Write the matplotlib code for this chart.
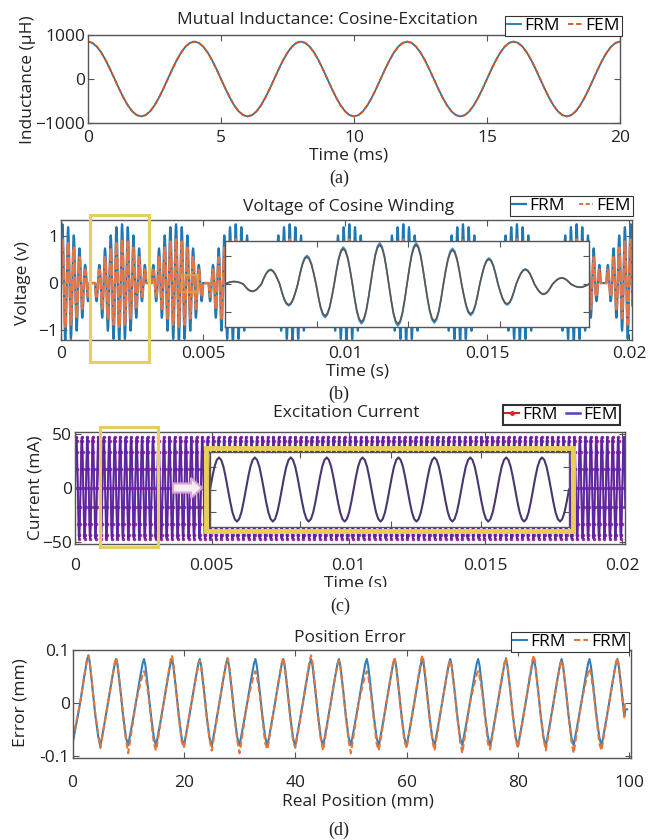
import numpy as np
import matplotlib
matplotlib.use("Agg")
import matplotlib.pyplot as plt
from matplotlib.patches import Rectangle, FancyArrow
from matplotlib.lines import Line2D

W, H = 657, 840
plt.rcParams['font.family'] = ['Open Sans', 'DejaVu Sans']
plt.rcParams['font.size'] = 12.5

FRM_BLUE = '#1f77b4'
FEM_ORANGE = '#d95319'

# ---------------- data ----------------
# (a) mutual inductance, one 4 ms period sampled every 1/6 ms (uH)
ind_period_ms = 4.0
ind_cycle = [850, 821, 736, 601, 425, 220, 0, -220, -425, -601, -736, -821,
             -850, -821, -736, -601, -425, -220, 0, 220, 425, 601, 736, 821]
ind_n_cycles = 5

# (b) cosine winding voltage: 5 kHz carrier, envelope value for each carrier cycle
carrier_hz = 5000
carrier_cycle = [0, 0.38, 0.71, 0.92, 1, 0.92, 0.71, 0.38,
                 0, -0.38, -0.71, -0.92, -1, -0.92, -0.71, -0.38]
volt_env = [1, .95, .81, .59, .31, 0, -.31, -.59, -.81, -.95,
            -1, -.95, -.81, -.59, -.31, 0, .31, .59, .81, .95]
volt_frm_peak = 1.25
volt_fem_peak = 0.93
volt_n_cycles = 101
# inset (b): peak of each half cycle over one lobe
half_shape = [0, 0.38, 0.71, 0.92, 1, 0.92, 0.71, 0.38]
inset_b_peaks = [0.06, -0.18, 0.35, -0.52, 0.68, -0.8, 0.88, -0.95, 0.98, -1.0,
                 0.98, -0.93, 0.85, -0.75, 0.62, -0.5, 0.36, -0.25, 0.15, -0.08]
inset_b_frm_scale = 1.05

# (c) excitation current (mA)
cur_amp = 47
cur_n_cycles = 101
inset_c_peaks = [1, -1, 1, -1, 1, -1, 1, -1, 1, -1, 1, -1, 1, -1, 1, -1, 1, -1, 1, -1]

# (d) position error: one 5 mm period shape + per-cycle peaks / troughs (mm)
err_period = 5.0
err_shape_pos = [0, 0.7, 1.4, 2.1, 2.6, 2.85, 3.1, 3.6, 4.1, 4.6]
err_shape_val = [-1, -0.5, 0.02, 0.55, 0.9, 1.0, 0.85, 0.3, -0.3, -0.8]
err_frm_peak = [0.09, 0.083, 0.083, 0.083, 0.083, 0.083, 0.083, 0.083, 0.083, 0.083,
                0.083, 0.083, 0.083, 0.083, 0.083, 0.083, 0.083, 0.083, 0.083, 0.083]
err_frm_trough = [-0.078, -0.082, -0.08, -0.082, -0.082, -0.082, -0.08, -0.082, -0.082, -0.082,
                  -0.08, -0.082, -0.082, -0.082, -0.08, -0.082, -0.082, -0.082, -0.08, -0.082]
err_fem_peak = [0.09, 0.085, 0.06, 0.09, 0.08, 0.085, 0.06, 0.085, 0.09, 0.08,
                0.06, 0.085, 0.09, 0.08, 0.06, 0.085, 0.09, 0.08, 0.065, 0.085]
err_fem_trough = [-0.07, -0.085, -0.095, -0.09, -0.085, -0.09, -0.095, -0.088, -0.085, -0.09,
                  -0.095, -0.09, -0.085, -0.09, -0.095, -0.088, -0.085, -0.09, -0.095, -0.09]


def fig_rect(l, t, r, b):
    return [l / W, 1 - b / H, (r - l) / W, (b - t) / H]


def ftext(x, y, s, **kw):
    kw.setdefault('ha', 'center')
    kw.setdefault('va', 'center')
    kw.setdefault('color', '#222222')
    fig.text(x / W, 1 - y / H, s, **kw)


def frect(l, t, r, b, **kw):
    fig.patches.append(Rectangle((l / W, 1 - b / H), (r - l) / W, (b - t) / H,
                                 transform=fig.transFigure, fill=False, **kw))


def style(ax, xpad=5):
    for s in ax.spines.values():
        s.set_color('#555555')
        s.set_linewidth(1.0)
    ax.tick_params(direction='in', length=4, width=0.8, color='#555555',
                   labelcolor='#222222', top=True, right=True)
    ax.tick_params(axis='x', pad=xpad)
    ax.tick_params(axis='y', pad=2)


def legend(ax, handles, labels, r, t, lw=0.8, colsp=0.45):
    lg = ax.legend(handles, labels, loc='upper right', bbox_to_anchor=(r / W, 1 - t / H),
                   bbox_transform=fig.transFigure, ncol=2, handlelength=0.8,
                   handletextpad=0.2, columnspacing=colsp, borderpad=0.12,
                   borderaxespad=0, fancybox=False, framealpha=1)
    lg.get_frame().set_edgecolor('#333333')
    lg.get_frame().set_linewidth(lw)
    return lg


def from_half_peaks(peaks):
    y = []
    for p in peaks:
        y += [p * abs(v) for v in half_shape]
    y.append(0)
    return np.array(y)


fig = plt.figure(figsize=(W / 100, H / 100), dpi=100)

# ---------------- (a) ----------------
ax = fig.add_axes(fig_rect(88, 35, 620, 123))
ya = np.append(np.tile(ind_cycle, ind_n_cycles), ind_cycle[0])
ta = np.arange(len(ya)) * ind_period_ms / len(ind_cycle)
h1, = ax.plot(ta, ya, color=FRM_BLUE, lw=1.3)
h2, = ax.plot(ta, ya, color=FEM_ORANGE, lw=1.3, ls=(0, (3, 1.5)))
ax.set_xlim(0, 20)
ax.set_ylim(-1000, 1000)
ax.set_xticks([0, 5, 10, 15, 20])
ax.set_yticks([-1000, 0, 1000])
style(ax, xpad=5)
legend(ax, [h1, h2], ['FRM', 'FEM'], 622, 16)
ftext(327, 20, 'Mutual Inductance: Cosine-Excitation')
ftext(349, 155, 'Time (ms)')
ftext(28, 80, 'Inductance (\u03bcH)', rotation=90)
ftext(339, 178, '(a)', family='Liberation Serif', fontsize=13)

# ---------------- (b) ----------------
ax = fig.add_axes(fig_rect(61, 220, 632, 340))
env = np.repeat(volt_env * 6, len(carrier_cycle))[:volt_n_cycles * len(carrier_cycle)]
car = np.tile(carrier_cycle, volt_n_cycles)
tb = np.arange(len(car)) / (carrier_hz * len(carrier_cycle))
h1, = ax.plot(tb, volt_frm_peak * env * car, color=FRM_BLUE, lw=1.6)
ax.plot(tb, volt_fem_peak * env * car, color='#e0774a', lw=1.8, ls=(0, (5, 0.8)))
h2 = Line2D([], [], color='#e0774a', lw=1.5, ls=(0, (2, 1.2)))
ax.set_xlim(0, 0.0201)
ax.set_ylim(-1.21, 1.34)
ax.set_xticks([0, 0.005, 0.01, 0.015, 0.02])
ax.set_xticklabels(['0', '0.005', '0.01', '0.015', '0.02'])
ax.set_yticks([-1, 0, 1])
style(ax, xpad=4)
legend(ax, [h1, h2], ['FRM', 'FEM'], 633, 196, colsp=0.8)
ftext(349, 207, 'Voltage of Cosine Winding')
ftext(358, 371, 'Time (s)')
ftext(23, 283, 'Voltage (v)', rotation=90)
ftext(339, 394, '(b)', family='Liberation Serif', fontsize=13)

axi = fig.add_axes(fig_rect(225, 241, 589, 327), zorder=2)
yi = from_half_peaks(inset_b_peaks)
xi = np.arange(len(yi))
axi.plot(xi, inset_b_frm_scale * yi, color='#3f8fd2', lw=1.2)
axi.plot(xi, yi, color='#5c5650', lw=1.2)
axi.set_xlim(0, len(yi) - 1)
axi.set_ylim(-1.075, 1.075)
axi.set_xticks([len(yi) * f for f in (0.25, 0.5, 0.75)])
axi.set_yticks([-0.7, 0, 0.7])
axi.set_xticklabels([])
axi.set_yticklabels([])
style(axi)
frect(90, 215, 149, 362, edgecolor='#e6cf60', lw=2.2, zorder=5)
frect(182, 275, 198, 292, edgecolor='#e8a33a', lw=1.5, zorder=5, alpha=0.8)

# ---------------- (c) ----------------
ax = fig.add_axes(fig_rect(75, 432, 625, 544))
cur = cur_amp * np.tile(carrier_cycle, cur_n_cycles)
tc = np.arange(len(cur)) / (carrier_hz * len(carrier_cycle))
ax.plot(tc, cur, color='#d62728', lw=1.0, marker='.', ms=3, mfc='#b0309a', mec='#b0309a')
ax.plot(tc, cur, color='#4a22b0', lw=1.5, alpha=0.85)
h1 = Line2D([], [], color='#d62728', lw=1.5, marker='.', ms=5)
h2 = Line2D([], [], color='#5a3cc0', lw=1.8)
ax.set_xlim(0, 0.0201)
ax.set_ylim(-52, 52)
ax.set_xticks([0, 0.005, 0.01, 0.015, 0.02])
ax.set_xticklabels(['0', '0.005', '0.01', '0.015', '0.02'])
ax.set_yticks([-50, 0, 50])
style(ax, xpad=10)
legend(ax, [h1, h2], ['FRM', 'FEM'], 620, 405, lw=1.5)
ftext(346, 413, 'Excitation Current')
ftext(356, 576, 'Time (s)', va='top')
ftext(35, 488, 'Current (mA)', rotation=90)
ftext(340, 606, '(c)', family='Liberation Serif', fontsize=13)
fig.patches.append(Rectangle((300 / W, 1 - 598 / H), 120 / W, 11 / H, transform=fig.transFigure,
                             facecolor='white', edgecolor='none', zorder=6))

fig.patches.append(Rectangle((206 / W, 1 - 531 / H), 367 / W, 83 / H, transform=fig.transFigure,
                             facecolor='none', edgecolor='#e8cf5a', lw=3.5, zorder=1))
axi = fig.add_axes(fig_rect(210, 452, 569, 527), zorder=2)
yi = from_half_peaks(inset_c_peaks)
xi = np.arange(len(yi))
axi.plot(xi, yi, color='#4a3570', lw=1.5)
axi.set_xlim(0, len(yi) - 1)
axi.set_ylim(-1.17, 1.17)
axi.set_xticks([len(yi) * f for f in (0.25, 0.5, 0.75)])
axi.set_yticks([-0.7, 0, 0.7])
axi.set_xticklabels([])
axi.set_yticklabels([])
style(axi)
frect(100, 427, 158, 547, edgecolor='#e6cf60', lw=2.2, zorder=5)
fig.patches.append(FancyArrow(173 / W, 1 - 488 / H, 29 / W, 0, width=9 / H, head_width=20 / H,
                              head_length=11 / W, length_includes_head=True,
                              transform=fig.transFigure, facecolor='#f6eef4',
                              edgecolor='#d9a6cc', lw=1.5, zorder=5))

# ---------------- (d) ----------------
ax = fig.add_axes(fig_rect(72.5, 650, 631, 758))


def err_series(peaks, troughs):
    xs, ys = [], []
    for k in range(len(peaks)):
        for p, v in zip(err_shape_pos, err_shape_val):
            xs.append(k * err_period + p)
            ys.append(v * peaks[k] if v > 0 else v * -troughs[k])
    return xs, ys


xf, yf = err_series(err_frm_peak, err_frm_trough)
xm, ym = err_series(err_fem_peak, err_fem_trough)
h1, = ax.plot(xf[:-1] + [99.3, 99.6], yf[:-1] + [-0.012, -0.012], color='#2f7fbf', lw=1.5)
h2, = ax.plot(xm[:-1] + [99.2], ym[:-1] + [0.0], color='#e0773a', lw=1.5, ls=(0, (3, 1.5)))
ax.set_xlim(0, 100.3)
ax.set_ylim(-0.104, 0.1)
ax.set_xticks([0, 20, 40, 60, 80, 100])
ax.set_yticks([-0.1, 0, 0.1])
ax.set_yticklabels(['-0.1', '0', '0.1'])
style(ax, xpad=12)
legend(ax, [h1, h2], ['FRM', 'FRM'], 629, 632)
ftext(350, 638, 'Position Error')
ftext(358, 802, 'Real Position (mm)')
ftext(21, 703, 'Error (mm)', rotation=90)
ftext(339, 830, '(d)', family='Liberation Serif', fontsize=13)

fig.savefig('out.png', dpi=100)
